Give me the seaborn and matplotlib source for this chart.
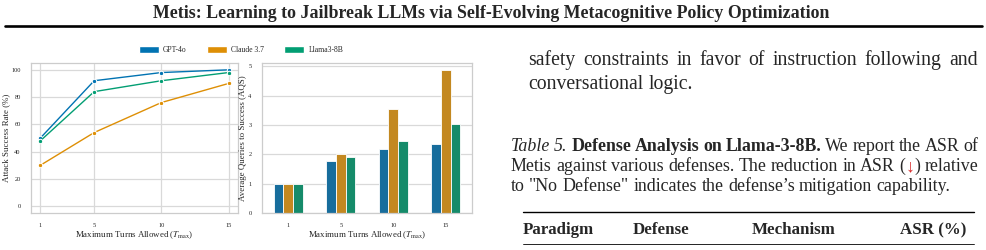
"""Recreate the Metis page crop: turn-budget ablation figure plus surrounding text."""

import matplotlib

matplotlib.use("Agg")
import matplotlib.pyplot as plt
import numpy as np
import pandas as pd
import seaborn as sns
from matplotlib.patches import Patch

MODELS = ["GPT-4o", "Claude 3.7", "Llama3-8B"]
TURNS = [1, 5, 10, 15]
ASR = {
    "GPT-4o": [50, 92, 98, 100],
    "Claude 3.7": [30, 54, 76, 90],
    "Llama3-8B": [48, 84, 92, 98],
}
AQS = {
    "GPT-4o": [1.0, 1.76, 2.17, 2.36],
    "Claude 3.7": [1.0, 2.01, 3.56, 4.87],
    "Llama3-8B": [1.0, 1.91, 2.45, 3.03],
}
ASR_TICKS = [0, 20, 40, 60, 80, 100]
AQS_TICKS = [0, 1, 2, 3, 4, 5]

W, H = 986, 250
SERIF = ["Liberation Serif", "DejaVu Serif"]


def long_frame(values: dict, name: str) -> pd.DataFrame:
    rows = []
    for model in MODELS:
        for turn, value in zip(TURNS, values[model]):
            rows.append({"model": model, "turns": turn, name: value})
    return pd.DataFrame(rows)


def px_axes(fig, x0, y0, x1, y1):
    return fig.add_axes([x0 / W, 1 - y1 / H, (x1 - x0) / W, (y1 - y0) / H])


def words(text, **style):
    return [[(w, style)] for w in text.split()]


def draw_line(fig, renderer, line, x0, y, size, x1=None):
    """Place words at pixel coords; spread them to x1 when justified."""
    placed = []
    total = 0.0
    for word in line:
        segs = []
        for seg, style in word:
            t = fig.text(0, 0, seg, fontsize=size, family=SERIF, va="baseline", **style)
            w = t.get_window_extent(renderer).width
            segs.append((t, w))
            total += w
        placed.append(segs)
    if x1 is not None and len(placed) > 1:
        gap = (x1 - x0 - total) / (len(placed) - 1)
    else:
        gap = size * 100 / 72 * 0.25
    x = x0
    for segs in placed:
        for t, w in segs:
            t.set_position((x / W, 1 - y / H))
            x += w
        x += gap


def style_axis(ax, ylabel):
    ax.set_ylabel(ylabel, fontsize=6.4, labelpad=0.8)
    ax.set_xlabel(r"Maximum Turns Allowed ($T_{\max}$)", fontsize=6.4, labelpad=0.5)
    ax.tick_params(labelsize=4.6, pad=1.5)


def main() -> None:
    sns.set_theme(style="whitegrid", palette="colorblind")
    plt.rcParams.update(
        {
            "font.family": SERIF,
            "mathtext.fontset": "stix",
            "axes.edgecolor": "#cccccc",
            "grid.color": "#d9d9d9",
            "axes.linewidth": 0.9,
            "grid.linewidth": 0.9,
        }
    )
    colors = dict(zip(MODELS, sns.color_palette("colorblind", 3)))

    fig = plt.figure(figsize=(W / 100, H / 100), dpi=100)
    renderer = fig.canvas.get_renderer()

    # page header
    fig.text(491 / W, 1 - 18 / H, "Metis: Learning to Jailbreak LLMs via Self-Evolving "
             "Metacognitive Policy Optimization", ha="center", va="baseline",
             fontsize=12.9, fontweight="bold", family=SERIF)
    fig.add_artist(plt.Line2D([5 / W, 982 / W], [1 - 25.5 / H] * 2, color="black", lw=1.9))

    # left panel: ASR vs turn budget
    asr_df = long_frame(ASR, "asr")
    ax1 = px_axes(fig, 31, 63, 238, 213)
    sns.lineplot(data=asr_df, x="turns", y="asr", hue="model", palette=colors,
                 marker="o", markersize=3.2, linewidth=1.0, legend=False, ax=ax1)
    ax1.set_xticks(TURNS)
    ax1.set_yticks(ASR_TICKS)
    ax1.set_ylim(-5, 105)
    style_axis(ax1, "Attack Success Rate (%)")

    # right panel: AQS bars
    aqs_df = long_frame(AQS, "aqs")
    ax2 = px_axes(fig, 262, 63, 472, 213)
    sns.barplot(data=aqs_df, x="turns", y="aqs", hue="model", palette=colors,
                width=0.56, edgecolor="white", linewidth=0.6, legend=False, ax=ax2)
    ax2.set_yticks(AQS_TICKS)
    style_axis(ax2, "Average Queries to Success (AQS)")

    handles = [Patch(facecolor=colors[m], label=m) for m in MODELS]
    fig.legend(handles=handles, loc="center", bbox_to_anchor=(241 / W, 1 - 50 / H),
               ncol=3, frameon=False, fontsize=5.5, handlelength=2.6, handleheight=0.9,
               columnspacing=2.6, handletextpad=0.6)

    # body text on the right column
    body = 14.2
    draw_line(fig, renderer, words("safety constraints in favor of instruction following and"),
              528, 65, body, x1=978)
    draw_line(fig, renderer, words("conversational logic."), 528, 89, body)

    cap = 12.9
    line1 = (words("Table 5.", fontstyle="italic")
             + words("Defense Analysis on Llama-3-8B.", fontweight="bold")
             + words("We report the ASR of"))
    draw_line(fig, renderer, line1, 511, 151, cap, x1=978)
    line2 = (words("Metis against various defenses. The reduction in ASR")
             + [[("(", {}), ("\u2193", {"color": "#d62728"}), (")", {})]]
             + words("relative"))
    draw_line(fig, renderer, line2, 511, 171, cap, x1=978)
    draw_line(fig, renderer, words("to \"No Defense\" indicates the defense\u2019s mitigation capability."),
              511, 191, cap)

    # table header
    fig.add_artist(plt.Line2D([523 / W, 974 / W], [1 - 212 / H] * 2, color="black", lw=1.0))
    for x, label in [(523, "Paradigm"), (633, "Defense"), (752, "Mechanism"), (900, "ASR (%)")]:
        fig.text(x / W, 1 - 234 / H, label, fontsize=12.2, fontweight="bold",
                 family=SERIF, va="baseline")
    fig.add_artist(plt.Line2D([523 / W, 974 / W], [1 - 244 / H] * 2, color="black", lw=0.6))

    fig.savefig("out.png", dpi=100, facecolor="white")


if __name__ == "__main__":
    main()
